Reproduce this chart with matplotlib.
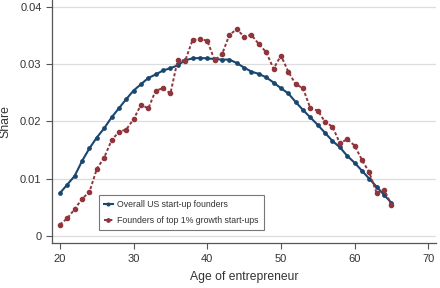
import matplotlib
matplotlib.use("Agg")
import matplotlib.pyplot as plt

plt.rcParams['font.family'] = ['Liberation Sans', 'DejaVu Sans']

ages = list(range(20, 66))
overall = [0.0075, 0.0090, 0.0105, 0.0131, 0.0153, 0.0172, 0.0188, 0.0207, 0.0223, 0.0239,
           0.0254, 0.0265, 0.0276, 0.0282, 0.0289, 0.0293, 0.0298, 0.0307, 0.0310, 0.0311,
           0.0310, 0.0309, 0.0308, 0.0308, 0.0302, 0.0294, 0.0287, 0.0283, 0.0277, 0.0268,
           0.0258, 0.0249, 0.0234, 0.0220, 0.0207, 0.0194, 0.0180, 0.0166, 0.0155, 0.0140,
           0.0128, 0.0114, 0.0100, 0.0086, 0.0072, 0.0058]
top1 = [0.0020, 0.0031, 0.0047, 0.0065, 0.0077, 0.0117, 0.0137, 0.0167, 0.0182, 0.0186,
        0.0204, 0.0229, 0.0223, 0.0254, 0.0258, 0.0249, 0.0308, 0.0306, 0.0342, 0.0344,
        0.0341, 0.0307, 0.0317, 0.0351, 0.0361, 0.0348, 0.0351, 0.0335, 0.0321, 0.0292,
        0.0315, 0.0287, 0.0265, 0.0258, 0.0223, 0.0219, 0.0199, 0.0191, 0.0162, 0.0169,
        0.0158, 0.0133, 0.0111, 0.0075, 0.0081, 0.0055]
labels = ["Overall US start-up founders", "Founders of top 1% growth start-ups"]
xticks = [20, 30, 40, 50, 60, 70]
yticks = [0, 0.01, 0.02, 0.03, 0.04]
yticklabels = ["0", "0.01", "0.02", "0.03", "0.04"]

blue = "#1a476f"
red = "#90353b"

fig = plt.figure(figsize=(4.4, 2.88), dpi=100)
ax = fig.add_axes([0.118, 0.156, 0.872, 0.844])

ax.plot(ages, overall, color=blue, lw=1.5, marker='o', ms=2.4, label=labels[0], zorder=3)
ax.plot(ages, top1, color=red, lw=1.4, ls=(0, (1.6, 1.1)), marker='o', ms=3.0,
        label=labels[1], zorder=3)

ax.set_xlim(18.91, 71.0)
ax.set_ylim(-0.00122, 0.0412)
ax.set_xticks(xticks)
ax.set_yticks(yticks)
ax.set_yticklabels(yticklabels)
ax.grid(axis='y', color='#dddddd', lw=0.9)
ax.set_axisbelow(True)
for s in ['top', 'right']:
    ax.spines[s].set_visible(False)
for s in ['left', 'bottom']:
    ax.spines[s].set_color('#555555')
    ax.spines[s].set_linewidth(0.9)
ax.tick_params(axis='both', colors='#555555', labelcolor='#333333', labelsize=8,
               length=4, width=0.8)
ax.tick_params(axis='x', pad=4)
ax.set_xlabel("Age of entrepreneur", fontsize=8.7, color='#333333', labelpad=5)
ax.set_ylabel("Share", fontsize=8.8, color='#333333', labelpad=6)

leg = ax.legend(loc='lower left', bbox_to_anchor=(0.122, 0.053), borderaxespad=0,
                fontsize=6.3, frameon=True, fancybox=False, edgecolor='#555555',
                handlelength=1.0, borderpad=0.6, labelspacing=0.75, handletextpad=0.5,
                markerscale=0.8)
leg.get_frame().set_linewidth(0.8)
for t in leg.get_texts():
    t.set_color('#333333')

fig.savefig("out.png", dpi=100)
